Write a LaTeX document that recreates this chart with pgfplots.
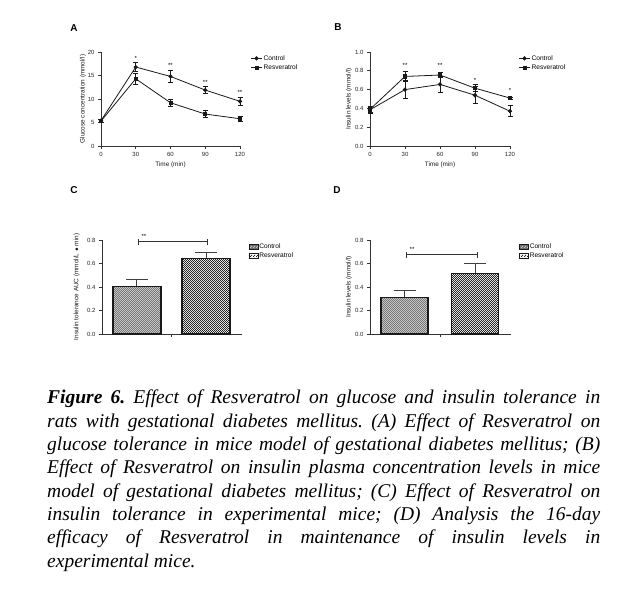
\documentclass[border=0pt]{standalone}
\usepackage{fontspec}
\setmainfont{Liberation Serif}
\setsansfont{Liberation Sans}
\usepackage{pgfplots}
\pgfplotsset{compat=1.18}
\usetikzlibrary{patterns}

\pgfdeclarepatternformonly{finecheck}{\pgfpointorigin}{\pgfqpoint{2.4pt}{2.4pt}}{\pgfqpoint{2.4pt}{2.4pt}}{%
  \pgfpathrectangle{\pgfpointorigin}{\pgfqpoint{1.2pt}{1.2pt}}%
  \pgfpathrectangle{\pgfqpoint{1.2pt}{1.2pt}}{\pgfqpoint{1.2pt}{1.2pt}}%
  \pgfusepath{fill}}

\pgfplotsset{
  panel/.style={
    scale only axis,
    axis lines=left,
    axis line style={-, draw=black!80, line width=0.8pt},
    tick align=outside,
    major tick length=3pt,
    tick style={black!80, line width=0.8pt},
    tick label style={font=\sffamily\fontsize{6}{6.5}\selectfont, text=black!85},
    label style={font=\sffamily\fontsize{6.4}{7}\selectfont, text=black!90},
    /pgf/number format/assume math mode=true,
    clip=false,
    legend cell align=left,
    legend style={draw=none, fill=none, font=\sffamily\fontsize{6.6}{7}\selectfont,
      anchor=north west, row sep=0.5pt, inner sep=0pt, nodes={inner sep=1.2pt}},
  },
  lineleg/.style={legend image code/.code={%
    \draw[mark repeat=2,mark phase=2,##1] plot coordinates {(0pt,0pt) (5.5pt,0pt) (11pt,0pt)};}},
  barleg/.style={legend image code/.code={%
    \draw[##1, line width=0.6pt] (0pt,-2.5pt) rectangle (9pt,2.5pt);}},
  ctrlline/.style={black!90, line width=0.8pt, mark=*, mark size=1.7pt, mark options={solid},
    error bars/.cd, y dir=both, y explicit, error mark=|,
    error bar style={line width=0.8pt, black!90},
    error mark options={black!90, mark size=2.5pt, line width=0.8pt}},
  resvline/.style={black!90, line width=0.8pt, mark=square*, mark size=1.6pt, mark options={solid},
    error bars/.cd, y dir=both, y explicit, error mark=|,
    error bar style={line width=0.8pt, black!90},
    error mark options={black!90, mark size=2.5pt, line width=0.8pt}},
  ctrlbar/.style={draw=black!90, line width=1.1pt, fill=gray!85!black, bar shift=0pt,
    postaction={pattern=finecheck, pattern color=gray!45},
    error bars/.cd, y dir=plus, y explicit, error mark=|,
    error bar style={line width=1pt, black!75},
    error mark options={black!75, mark size=11pt, line width=1pt}},
  resvbar/.style={draw=black!90, line width=1.1pt, fill=white, bar shift=0pt,
    postaction={pattern=finecheck, pattern color=black!85},
    error bars/.cd, y dir=plus, y explicit, error mark=|,
    error bar style={line width=1pt, black!75},
    error mark options={black!75, mark size=11pt, line width=1pt}},
}

\begin{document}
\begin{tikzpicture}[x=1pt,y=1pt]
\path (0,0) rectangle (627,-591);

% panel letters
\node[font=\sffamily\bfseries\fontsize{10}{12}\selectfont] at (74,-28) {A};
\node[font=\sffamily\bfseries\fontsize{10}{12}\selectfont] at (338,-27) {B};
\node[font=\sffamily\bfseries\fontsize{10}{12}\selectfont] at (74,-190) {C};
\node[font=\sffamily\bfseries\fontsize{10}{12}\selectfont] at (337,-190) {D};

% ---------- A ----------
\begin{axis}[panel, lineleg, at={(101pt,-146pt)}, anchor=south west,
  width=139pt, height=94pt, xmin=0, xmax=120, ymin=0, ymax=20,
  xtick={0,30,60,90,120}, ytick={0,5,10,15,20},
  xlabel={Time (min)}, ylabel={Glucose concentration (mmol/l)},
  xlabel style={at={(axis description cs:0.5,-0.2)}, anchor=center},
  ylabel style={at={(axis description cs:-0.13,0.5)}, anchor=center},
  legend style={at={(1.075,0.98)}}]
\addplot[ctrlline] coordinates {(0,5.4) +- (0,0.3) (30,16.8) +- (0,0.9) (60,14.8) +- (0,1.2) (90,11.9) +- (0,0.7) (120,9.5) +- (0,0.8)};
\addlegendentry{Control}
\addplot[resvline] coordinates {(0,5.3) +- (0,0.3) (30,14.3) +- (0,1.2) (60,9.2) +- (0,0.8) (90,6.8) +- (0,0.7) (120,5.8) +- (0,0.6)};
\addlegendentry{Resveratrol}
\node[font=\sffamily\fontsize{6}{6}\selectfont] at (axis cs:30,18.6) {*};
\node[font=\sffamily\fontsize{6}{6}\selectfont] at (axis cs:60,17.1) {**};
\node[font=\sffamily\fontsize{6}{6}\selectfont] at (axis cs:90,13.6) {**};
\node[font=\sffamily\fontsize{6}{6}\selectfont] at (axis cs:120,11.3) {**};
\end{axis}

% ---------- B ----------
\begin{axis}[panel, lineleg, at={(370pt,-146pt)}, anchor=south west,
  width=140pt, height=94pt, xmin=0, xmax=120, ymin=0, ymax=1,
  xtick={0,30,60,90,120}, ytick={0,0.2,0.4,0.6,0.8,1.0},
  yticklabel style={/pgf/number format/.cd, fixed, fixed zerofill, precision=1},
  xlabel={Time (min)}, ylabel={Insulin levels (mmol/l)},
  xlabel style={at={(axis description cs:0.5,-0.2)}, anchor=center},
  ylabel style={at={(axis description cs:-0.15,0.5)}, anchor=center},
  legend style={at={(1.06,0.98)}}]
\addplot[ctrlline] coordinates {(0,0.385) +- (0,0.04) (30,0.60) +- (0,0.095) (60,0.655) +- (0,0.085) (90,0.54) +- (0,0.09) (120,0.37) +- (0,0.06)};
\addlegendentry{Control}
\addplot[resvline] coordinates {(0,0.39) +- (0,0.03) (30,0.74) +- (0,0.05) (60,0.755) +- (0,0.03) (90,0.615) +- (0,0.035) (120,0.51) +- (0,0.012)};
\addlegendentry{Resveratrol}
\node[font=\sffamily\fontsize{6}{6}\selectfont] at (axis cs:30,0.86) {**};
\node[font=\sffamily\fontsize{6}{6}\selectfont] at (axis cs:60,0.86) {**};
\node[font=\sffamily\fontsize{6}{6}\selectfont] at (axis cs:90,0.70) {*};
\node[font=\sffamily\fontsize{6}{6}\selectfont] at (axis cs:120,0.59) {*};
\end{axis}

% ---------- C ----------
\begin{axis}[panel, ybar, barleg, at={(102pt,-334pt)}, anchor=south west,
  width=140pt, height=94pt, xmin=0, xmax=140, ymin=0, ymax=0.8,
  bar width=48pt,
  xtick={69}, xticklabels={}, ytick={0,0.2,0.4,0.6,0.8},
  yticklabel style={/pgf/number format/.cd, fixed, fixed zerofill, precision=1},
  ylabel={Insulin tolerance AUC (mmol/L $\bullet$ min)},
  ylabel style={at={(axis description cs:-0.18,0.5)}, anchor=center},
  legend style={at={(1.045,0.975)}}]
\addplot[ctrlbar] coordinates {(35,0.408) +- (0,0.06)};
\addlegendentry{Control}
\addplot[resvbar] coordinates {(104,0.644) +- (0,0.051)};
\addlegendentry{Resveratrol}
\draw[black!80, line width=0.9pt] (axis cs:36,0.785) -- (axis cs:105,0.785);
\draw[black!80, line width=0.9pt] (axis cs:36,0.757) -- (axis cs:36,0.81);
\draw[black!80, line width=0.9pt] (axis cs:105,0.757) -- (axis cs:105,0.81);
\node[font=\sffamily\fontsize{6}{6}\selectfont] at (axis cs:42,0.83) {**};
\end{axis}

% ---------- D ----------
\begin{axis}[panel, ybar, barleg, at={(370pt,-334pt)}, anchor=south west,
  width=141pt, height=94pt, xmin=0, xmax=141, ymin=0, ymax=0.8,
  bar width=47pt,
  xtick={70}, xticklabels={}, ytick={0,0.2,0.4,0.6,0.8},
  yticklabel style={/pgf/number format/.cd, fixed, fixed zerofill, precision=1},
  ylabel={Insulin levels (mmol/l)},
  ylabel style={at={(axis description cs:-0.15,0.5)}, anchor=center},
  legend style={at={(1.055,0.975)}}]
\addplot[ctrlbar] coordinates {(34.5,0.312) +- (0,0.054)};
\addlegendentry{Control}
\addplot[resvbar] coordinates {(105,0.516) +- (0,0.084)};
\addlegendentry{Resveratrol}
\draw[black!80, line width=0.9pt] (axis cs:36,0.678) -- (axis cs:107,0.678);
\draw[black!80, line width=0.9pt] (axis cs:36,0.645) -- (axis cs:36,0.70);
\draw[black!80, line width=0.9pt] (axis cs:107,0.645) -- (axis cs:107,0.70);
\node[font=\sffamily\fontsize{6}{6}\selectfont] at (axis cs:42,0.72) {**};
\end{axis}

% ---------- caption ----------
\node[anchor=north west, inner sep=0pt, align=left,
  font=\fontsize{19.5}{23.3}\selectfont\itshape\frenchspacing] at (47,-390) {%
\makebox[553pt][s]{\textbf{Figure 6.} Effect of Resveratrol on glucose and insulin tolerance in}\\
\makebox[553pt][s]{rats with gestational diabetes mellitus. (A) Effect of Resveratrol on}\\
\makebox[553pt][s]{glucose tolerance in mice model of gestational diabetes mellitus; (B)}\\
\makebox[553pt][s]{Effect of Resveratrol on insulin plasma concentration levels in mice}\\
\makebox[553pt][s]{model of gestational diabetes mellitus; (C) Effect of Resveratrol on}\\
\makebox[553pt][s]{insulin tolerance in experimental mice; (D) Analysis the 16-day}\\
\makebox[553pt][s]{efficacy of Resveratrol in maintenance of insulin levels in}\\
experimental mice.};
\end{tikzpicture}
\end{document}
